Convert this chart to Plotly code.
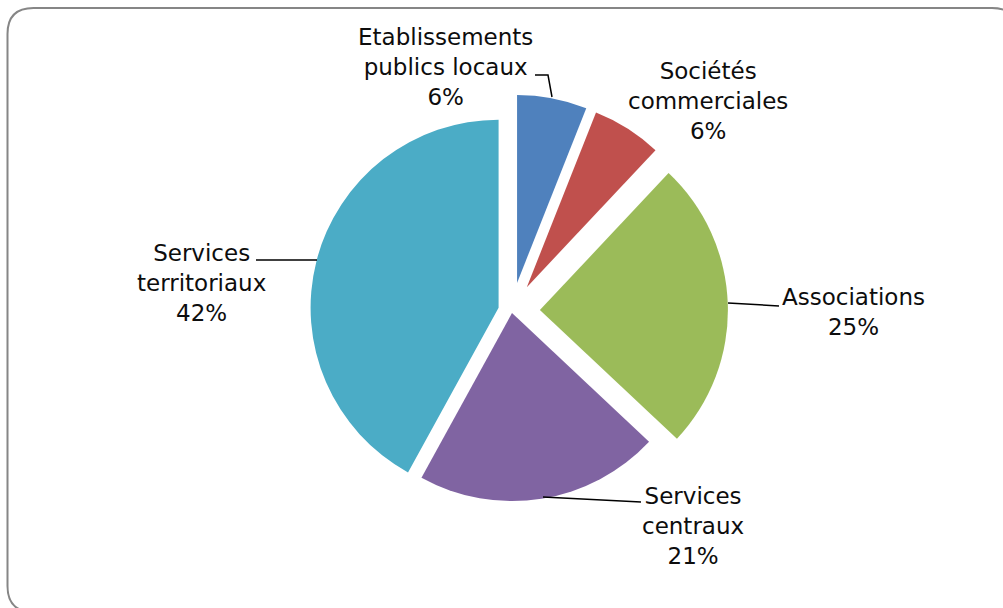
import plotly.graph_objects as go

# Répartition par type de structure (en %)
categories = [
    "Etablissements<br>publics locaux",
    "Sociétés<br>commerciales",
    "Associations",
    "Services<br>centraux",
    "Services<br>territoriaux",
]
values = [6, 6, 25, 21, 42]
colors = ["#4F81BD", "#C0504D", "#9BBB59", "#8064A2", "#4BACC6"]
pulls = [0.152, 0.15, 0.15, 0.011, 0.072]

W, H = 1003, 608


def px(x, y):
    """Pixel position -> paper coordinates (margins are zero)."""
    return x / W, 1 - y / H


# Pie placement: centre and radius in pixels
cx, cy, r = 511.7, 311.0, 188.0
half = r * (1 + max(pulls))
x0, _ = px(cx - half, 0)
x1, _ = px(cx + half, 0)
_, ytop = px(0, cy - half)
_, ybot = px(0, cy + half)

fig = go.Figure(
    go.Pie(
        labels=[c.replace("<br>", " ") for c in categories],
        values=values,
        marker=dict(colors=colors, line=dict(width=0)),
        pull=pulls,
        sort=False,
        direction="clockwise",
        rotation=0,
        textinfo="none",
        hoverinfo="label+percent",
        domain=dict(x=[x0, x1], y=[ybot, ytop]),
        showlegend=False,
    )
)

# Label block centres (pixels) and leader lines
label_pos = [(445, 67), (708, 101), (853, 312), (693, 526), (201, 283)]
leaders = [
    [(535, 75), (548, 75), (552, 97)],
    None,
    [(779, 306), (728, 303)],
    [(641, 502), (543, 497)],
    [(256, 260), (317, 260)],
]

annotations = []
for cat, v, (lx, ly) in zip(categories, values, label_pos):
    ax, ay = px(lx, ly)
    annotations.append(
        dict(
            x=ax, y=ay, xref="paper", yref="paper",
            text=f"{cat}<br>{v}%",
            showarrow=False,
            xanchor="center", yanchor="middle",
            align="center",
            font=dict(family="DejaVu Sans, sans-serif", size=23, color="#0d0d0d"),
        )
    )

shapes = []
for pts in leaders:
    if not pts:
        continue
    path = ""
    for i, (x, y) in enumerate(pts):
        X, Y = px(x, y)
        path += ("M" if i == 0 else " L") + f"{X:.5f},{Y:.5f}"
    shapes.append(
        dict(type="path", xref="paper", yref="paper", path=path,
             line=dict(color="#000000", width=1.5))
    )

# Rounded frame around the chart (runs past the right and bottom edges)
L, T, R_, B, rad = 7.5, 8.0, 1018.0, 612.0, 26.0


def P(x, y):
    X, Y = px(x, y)
    return f"{X:.5f},{Y:.5f}"


frame = (
    f"M{P(L, T + rad)} Q{P(L, T)} {P(L + rad, T)}"
    f" L{P(R_ - rad, T)} Q{P(R_, T)} {P(R_, T + rad)}"
    f" L{P(R_, B - rad)} Q{P(R_, B)} {P(R_ - rad, B)}"
    f" L{P(L + rad, B)} Q{P(L, B)} {P(L, B - rad)} Z"
)
shapes.append(
    dict(type="path", xref="paper", yref="paper", path=frame,
         line=dict(color="#868686", width=2), layer="below")
)

fig.update_layout(
    width=W, height=H,
    margin=dict(l=0, r=0, t=0, b=0),
    paper_bgcolor="white",
    plot_bgcolor="white",
    annotations=annotations,
    shapes=shapes,
)

fig.write_html("out.html")
